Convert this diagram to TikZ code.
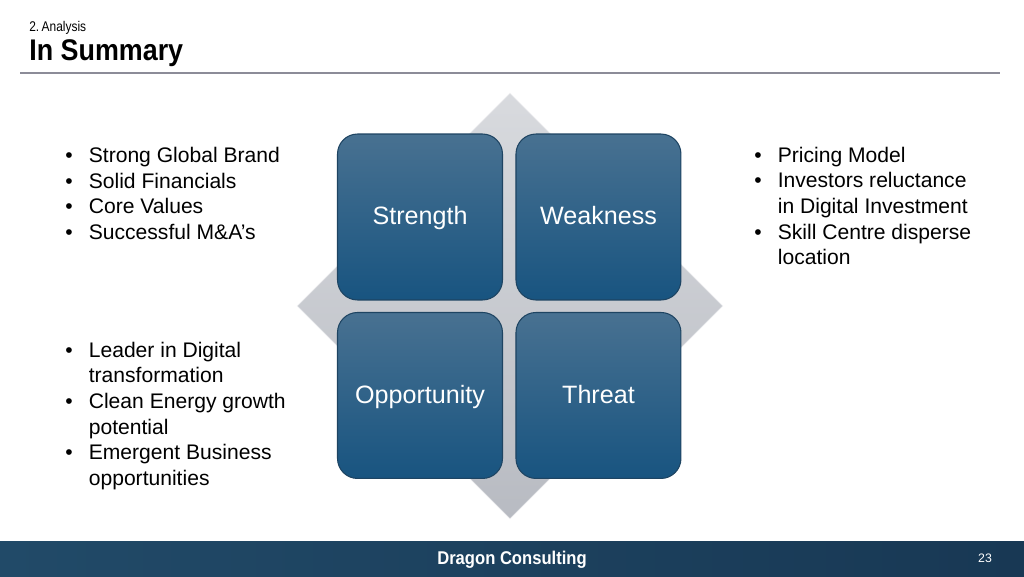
\documentclass[tikz,border=0pt]{standalone}
\usepackage{fontspec}
\setmainfont{Liberation Sans}
\usepackage{tikz}
\usetikzlibrary{shapes.geometric}

\definecolor{boxtop}{RGB}{72,113,145}
\definecolor{boxbot}{RGB}{24,84,128}
\definecolor{boxedge}{RGB}{30,68,98}
\definecolor{diatop}{RGB}{216,218,222}
\definecolor{diabot}{RGB}{184,187,194}
\definecolor{rulegray}{RGB}{140,140,152}
\definecolor{barleft}{RGB}{33,74,104}
\definecolor{barmid}{RGB}{28,88,126}
\definecolor{barright}{RGB}{24,56,84}

\newcommand{\bul}{\makebox[0.47cm][l]{\textbullet}}
\newcommand{\indt}{\hspace*{0.47cm}}

\begin{document}
\begin{tikzpicture}
		[x=0.02cm, y=-0.02cm, node distance={3.57cm},
		main/.style = {draw=boxedge, line width=0.6pt, rounded corners=0.4cm, top color=boxtop, bottom color=boxbot, minimum width=3.3cm, minimum height=3.32cm, text=white, text height=11.6pt, text depth=2.9pt, font=\fontsize{14.3}{17}\selectfont},
		list/.style = {anchor=north west, align=left, inner sep=0pt, font=\fontsize{12}{14.6}\selectfont}]
	\useasboundingbox (0,0) rectangle (1024,576);
	\node[anchor=base west, inner sep=0pt, font=\addfontfeatures{FakeStretch=0.85}\fontsize{8}{9}\selectfont] (t1) at (29,31) {2.\,Analysis};
	\node[anchor=base west, inner sep=0pt, font=\addfontfeatures{FakeStretch=0.9}\fontsize{17}{18}\selectfont\bfseries] (t2) at (29,60) {In Summary};
	\draw[rulegray, line width=0.6pt] (20,73) -- (1000,73);
	\node[diamond, draw=white!80!diabot, top color=diatop, bottom color=diabot, minimum width=8.52cm, minimum height=8.52cm, inner sep=0pt] (0) at (510,306) {};
	\node[main] (1) at (420,217) {Strength};
	\node[main] (2) [right of = 1] {Weakness};
	\node[main] (3) [below of = 1] {Opportunity};
	\node[main] (4) [below of = 2] {Threat};
	\node[list] (5) at (65,147) {\bul Strong Global Brand\\ \bul Solid Financials\\ \bul Core Values\\ \bul Successful M\&A’s};
	\node[list] (6) at (65,341.5) {\bul Leader in Digital\\ \indt transformation\\ \bul Clean Energy growth\\ \indt potential\\ \bul Emergent Business\\ \indt opportunities};
	\node[list] (7) at (754,146.5) {\bul Pricing Model\\ \bul Investors reluctance\\ \indt in Digital Investment\\ \bul Skill Centre disperse\\ \indt location};
	\fill[left color=barleft, middle color=barmid, right color=barright] (0,541) rectangle (1024,576);
	\node[text=white, font=\addfontfeatures{FakeStretch=0.9}\fontsize{10.5}{12}\selectfont\bfseries] (8) at (512,560) {Dragon Consulting};
	\node[text=white, font=\fontsize{7}{8}\selectfont] (9) at (985,558) {23};
\end{tikzpicture}
\end{document}
